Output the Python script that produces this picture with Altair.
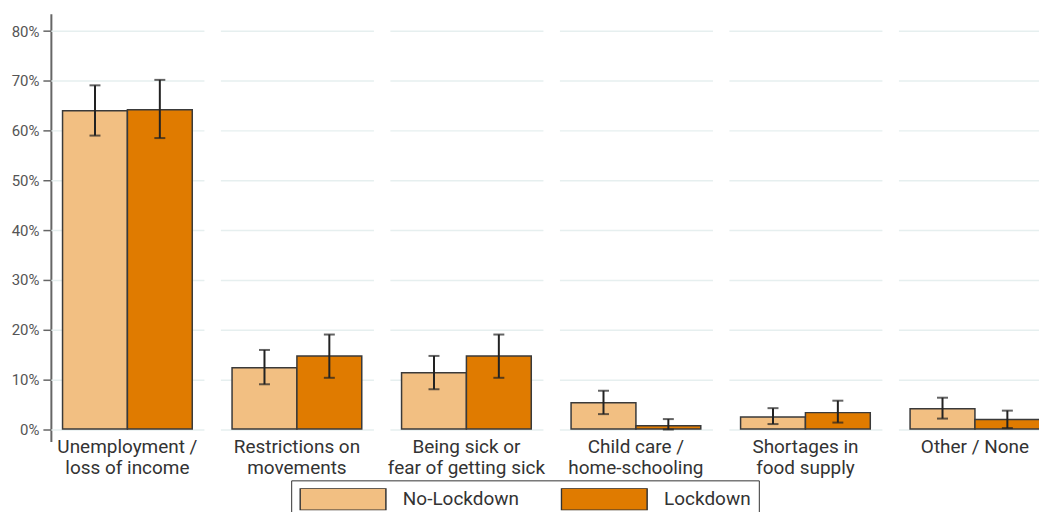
import altair as alt
import pandas as pd

categories = [
    "Unemployment /|loss of income",
    "Restrictions on|movements",
    "Being sick or|fear of getting sick",
    "Child care /|home-schooling",
    "Shortages in|food supply",
    "Other / None",
]
series = ["No-Lockdown", "Lockdown"]

no_lockdown = [64.0, 12.3, 11.3, 5.3, 2.4, 4.1]
no_lockdown_low = [59.0, 9.0, 8.0, 3.0, 1.0, 2.1]
no_lockdown_high = [69.1, 15.9, 14.7, 7.7, 4.2, 6.3]

lockdown = [64.2, 14.7, 14.7, 0.66, 3.3, 1.9]
lockdown_low = [58.5, 10.3, 10.3, -0.1, 1.3, 0.2]
lockdown_high = [70.2, 19.0, 19.0, 2.0, 5.7, 3.7]

y_ticks = [0, 10, 20, 30, 40, 50, 60, 70, 80]
colors = ["#F2BF82", "#E07B00"]

rows = []
for i, c in enumerate(categories):
    rows.append(dict(cat=c, series=series[0], value=no_lockdown[i],
                     low=no_lockdown_low[i], high=no_lockdown_high[i]))
    rows.append(dict(cat=c, series=series[1], value=lockdown[i],
                     low=lockdown_low[i], high=lockdown_high[i]))
df = pd.DataFrame(rows)

x_enc = alt.X("series:N", sort=series, axis=None,
              scale=alt.Scale(paddingInner=0, paddingOuter=0.18))
y_scale = alt.Scale(domain=[-2.5, 83.5], nice=False, zero=False)

bars = alt.Chart().mark_bar(stroke="#3a3a3a", strokeWidth=1.5).encode(
    x=x_enc,
    y=alt.Y("value:Q", scale=y_scale, title=None,
            axis=alt.Axis(values=y_ticks, labelExpr="datum.value + '%'")),
    y2=alt.datum(0),
    color=alt.Color(
        "series:N", sort=series,
        scale=alt.Scale(domain=series, range=colors),
        legend=alt.Legend(
            title=None, orient="none", direction="horizontal",
            legendX=241, legendY=468,
            symbolType="M-1,-0.256H1V0.256H-1Z", symbolSize=7396,
            symbolStrokeColor="#333", symbolStrokeWidth=1.5,
            symbolOpacity=1, clipHeight=22,
            labelFont="Roboto", labelFontSize=19, labelColor="#333",
            labelOffset=16, columnPadding=41, padding=8,
            strokeColor="#333",
        ),
    ),
)

err = alt.Chart().mark_rule(color="#222", strokeWidth=2).encode(
    x=x_enc, y=alt.Y("low:Q", scale=y_scale), y2="high:Q")
cap_low = alt.Chart().mark_tick(color="#222", thickness=2, size=11).encode(
    x=x_enc, y=alt.Y("low:Q", scale=y_scale))
cap_high = alt.Chart().mark_tick(color="#222", thickness=2, size=11).encode(
    x=x_enc, y=alt.Y("high:Q", scale=y_scale))

layered = alt.layer(bars, err, cap_low, cap_high, data=df).properties(
    width=153.5, height=429)

chart = layered.facet(
    column=alt.Column(
        "cat:N", sort=categories, title=None,
        header=alt.Header(
            labelOrient="bottom", labelExpr="split(datum.value, '|')",
            labelFont="Roboto", labelFontSize=19, labelColor="#333",
            labelPadding=-3, labelLineHeight=21,
        ),
    ),
    spacing=16,
).properties(
    padding={"left": 3, "top": 5, "right": -13, "bottom": -8}
).configure_view(stroke=None).configure_axis(
    gridColor="#e6efef", gridWidth=1.5,
    domainColor="#666", domainWidth=2,
    tickColor="#666", tickSize=8, tickWidth=1.5,
    labelFont="Roboto", labelFontSize=15, labelColor="#555", labelPadding=4,
)

chart.save("out.html", embed_options={"renderer": "svg", "actions": False})
